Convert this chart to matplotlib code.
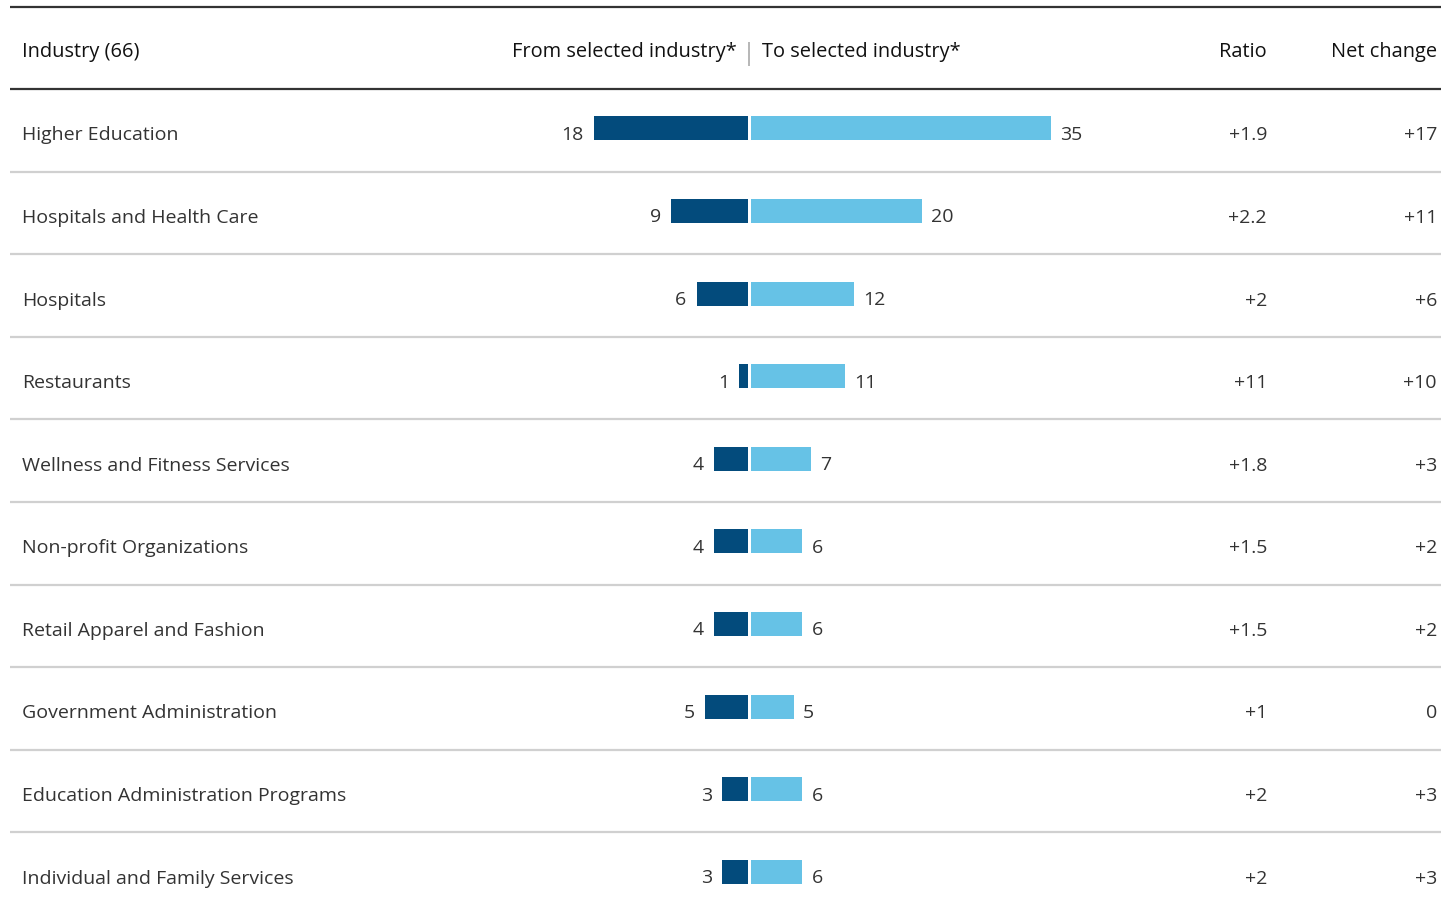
import matplotlib
matplotlib.use("Agg")
import matplotlib.pyplot as plt

plt.rcParams['font.family'] = ['Open Sans', 'DejaVu Sans']

industries = ["Higher Education", "Hospitals and Health Care", "Hospitals", "Restaurants",
              "Wellness and Fitness Services", "Non-profit Organizations",
              "Retail Apparel and Fashion", "Government Administration",
              "Education Administration Programs", "Individual and Family Services"]
from_vals = [18, 9, 6, 1, 4, 4, 4, 5, 3, 3]
to_vals = [35, 20, 12, 11, 7, 6, 6, 5, 6, 6]
ratio = ["+1.9", "+2.2", "+2", "+11", "+1.8", "+1.5", "+1.5", "+1", "+2", "+2"]
net_change = ["+17", "+11", "+6", "+10", "+3", "+2", "+2", "0", "+3", "+3"]

W, H = 1441, 911
dark = "#034b7c"
light = "#66c2e6"
txt = "#333333"
head = "#111111"
fs = 14.0
hfs = 14.45

fig = plt.figure(figsize=(W / 100, H / 100), dpi=100)

# pixel-space axes for the table frame and texts
ax = fig.add_axes([0, 0, 1, 1])
ax.set_xlim(0, W)
ax.set_ylim(H, 0)
ax.axis("off")

head_line = 89
pitch = 82.6
n = len(industries)

ax.hlines(7, 10, W, color="#333333", lw=1.6)
ax.hlines(head_line, 10, W, color="#333333", lw=1.6)
for i in range(1, n):
    ax.hlines(head_line + pitch * i, 10, W, color="#d0d0d0", lw=1.6)

hy = 57
ax.text(22, hy, "Industry (66)", fontsize=hfs, color=head, va="baseline")
ax.text(737, hy, "From selected industry*", fontsize=hfs, color=head, va="baseline", ha="right")
ax.text(762, hy, "To selected industry*", fontsize=hfs, color=head, va="baseline", ha="left")
ax.vlines(748.5, 42, 66, color="#aaaaaa", lw=1.2)
ax.text(1267, hy, "Ratio", fontsize=hfs, color=head, va="baseline", ha="right")
ax.text(1437, hy, "Net change", fontsize=hfs, color=head, va="baseline", ha="right")

for i in range(n):
    yb = head_line + pitch * (i + 0.5) + 10
    ax.text(22, yb, industries[i], fontsize=fs, color=txt, va="baseline")
    ax.text(1267, yb, ratio[i], fontsize=fs, color=txt, va="baseline", ha="right")
    ax.text(1437, yb, net_change[i], fontsize=fs, color=txt, va="baseline", ha="right")

# bar axes in value units, rows in index units
span = 40
px_per = 8.57
top = (head_line + pitch * 0.5 - 2) / pitch  # row 0 centre in row units from top
ylim = (H / pitch - top, -top)

axl = fig.add_axes([(748 - span * px_per) / W, 0, span * px_per / W, 1])
axr = fig.add_axes([751 / W, 0, span * px_per / W, 1])
for a in (axl, axr):
    a.set_ylim(*ylim)
    a.axis("off")
    a.patch.set_alpha(0)
axl.set_xlim(span, 0)
axr.set_xlim(0, span)

rows = list(range(n))
axl.barh(rows, from_vals, height=24 / pitch, color=dark)
axr.barh(rows, to_vals, height=24 / pitch, color=light)
for i in rows:
    axl.annotate(str(from_vals[i]), (from_vals[i], i), xytext=(-10, -6.5), textcoords="offset pixels",
                 ha="right", va="center", fontsize=fs, color=txt)
    axr.annotate(str(to_vals[i]), (to_vals[i], i), xytext=(9, -6.5), textcoords="offset pixels",
                 ha="left", va="center", fontsize=fs, color=txt)

fig.savefig("out.png", dpi=100)
